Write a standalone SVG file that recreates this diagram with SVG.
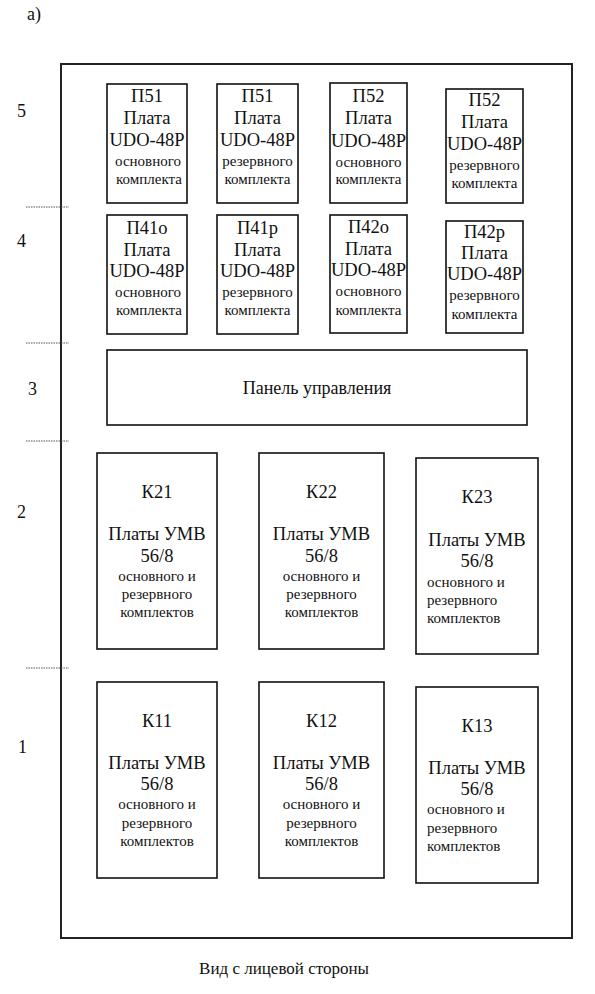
<svg xmlns="http://www.w3.org/2000/svg" width="595" height="994" viewBox="0 0 595 994" font-family="'Liberation Serif', 'Times New Roman', 'DejaVu Serif', serif">
<style>
.bx{fill:#fff;stroke:#111;stroke-width:1.6}
.fr{fill:none;stroke:#222;stroke-width:2}
.dt{stroke:#555;stroke-width:1.2;stroke-dasharray:1.5 1}
text{font-family:'Liberation Serif','Times New Roman','DejaVu Serif',serif;fill:#111}
.b{font-size:18.5px;text-anchor:middle}
.s{font-size:15px;text-anchor:middle}
.sl{font-size:15px}
.lb{font-size:18px}
</style>
<rect width="595" height="994" fill="#fff"/>
<text class="lb" x="27" y="20">а)</text>
<rect class="fr" x="61" y="64" width="511" height="874"/>
<g id="row-labels">
<text class="lb" x="17" y="117">5</text>
<text class="lb" x="17" y="247">4</text>
<text class="lb" x="28" y="395">3</text>
<text class="lb" x="17" y="518">2</text>
<text class="lb" x="18" y="753">1</text>
</g>
<g id="separators">
<line class="dt" x1="26" y1="207" x2="69" y2="207"/>
<line class="dt" x1="26" y1="343" x2="69" y2="343"/>
<line class="dt" x1="26" y1="441" x2="69" y2="441"/>
<line class="dt" x1="26" y1="668" x2="69" y2="668"/>
</g>
<g id="p51o">
<rect class="bx" x="107" y="84" width="80" height="119"/>
<text class="b" x="147" y="102">П51</text>
<text class="b" x="147" y="124">Плата</text>
<text class="b" x="147" y="146">UDO-48P</text>
<text class="s" x="148" y="166">основного</text>
<text class="s" x="149" y="184">комплекта</text>
</g>
<g id="p51r">
<rect class="bx" x="217" y="84" width="81" height="119"/>
<text class="b" x="257.5" y="102">П51</text>
<text class="b" x="257.5" y="124">Плата</text>
<text class="b" x="257.5" y="146">UDO-48P</text>
<text class="s" x="257.5" y="166">резервного</text>
<text class="s" x="257.5" y="184">комплекта</text>
</g>
<g id="p52o">
<rect class="bx" x="330" y="83" width="77" height="120"/>
<text class="b" x="368.5" y="102">П52</text>
<text class="b" x="368.5" y="124">Плата</text>
<text class="b" x="368.5" y="147">UDO-48P</text>
<text class="s" x="368.5" y="167">основного</text>
<text class="s" x="368.5" y="184">комплекта</text>
</g>
<g id="p52r">
<rect class="bx" x="446" y="89" width="77" height="114"/>
<text class="b" x="484.5" y="106">П52</text>
<text class="b" x="484.5" y="128">Плата</text>
<text class="b" x="484.5" y="150">UDO-48P</text>
<text class="s" x="484.5" y="170">резервного</text>
<text class="s" x="484.5" y="188">комплекта</text>
</g>
<g id="p41o">
<rect class="bx" x="107" y="215" width="80" height="119"/>
<text class="b" x="147" y="234">П41о</text>
<text class="b" x="147" y="256">Плата</text>
<text class="b" x="147" y="277">UDO-48P</text>
<text class="s" x="148" y="297">основного</text>
<text class="s" x="149" y="315">комплекта</text>
</g>
<g id="p41r">
<rect class="bx" x="217" y="215" width="81" height="119"/>
<text class="b" x="257.5" y="234">П41р</text>
<text class="b" x="257.5" y="256">Плата</text>
<text class="b" x="257.5" y="277">UDO-48P</text>
<text class="s" x="257.5" y="297">резервного</text>
<text class="s" x="257.5" y="315">комплекта</text>
</g>
<g id="p42o">
<rect class="bx" x="330" y="215" width="77" height="118"/>
<text class="b" x="368.5" y="233">П42о</text>
<text class="b" x="368.5" y="255">Плата</text>
<text class="b" x="368.5" y="276">UDO-48P</text>
<text class="s" x="368.5" y="296">основного</text>
<text class="s" x="368.5" y="315">комплекта</text>
</g>
<g id="p42r">
<rect class="bx" x="446" y="221" width="77" height="112"/>
<text class="b" x="484.5" y="238">П42р</text>
<text class="b" x="484.5" y="259">Плата</text>
<text class="b" x="484.5" y="280">UDO-48P</text>
<text class="s" x="484.5" y="300">резервного</text>
<text class="s" x="484.5" y="319">комплекта</text>
</g>
<g id="panel">
<rect class="bx" x="107" y="350" width="420" height="75"/>
<text class="b" x="317" y="394" style="font-size:18px">Панель управления</text>
</g>
<g id="k21">
<rect class="bx" x="97" y="453" width="120" height="196"/>
<text class="b" x="157" y="498">К21</text>
<text class="b" x="157" y="540">Платы УМВ</text>
<text class="b" x="157" y="562">56/8</text>
<text class="s" x="157" y="581">основного и</text>
<text class="s" x="157" y="599">резервного</text>
<text class="s" x="157" y="617">комплектов</text>
</g>
<g id="k22">
<rect class="bx" x="259" y="453" width="125" height="196"/>
<text class="b" x="321.5" y="498">К22</text>
<text class="b" x="321.5" y="540">Платы УМВ</text>
<text class="b" x="321.5" y="562">56/8</text>
<text class="s" x="321.5" y="581">основного и</text>
<text class="s" x="321.5" y="599">резервного</text>
<text class="s" x="321.5" y="617">комплектов</text>
</g>
<g id="k23">
<rect class="bx" x="416" y="458" width="122" height="196"/>
<text class="b" x="477" y="503">К23</text>
<text class="b" x="477" y="546">Платы УМВ</text>
<text class="b" x="477" y="567">56/8</text>
<text class="sl" x="427" y="587">основного и</text>
<text class="sl" x="427" y="605">резервного</text>
<text class="sl" x="427" y="623">комплектов</text>
</g>
<g id="k11">
<rect class="bx" x="97" y="682" width="120" height="196"/>
<text class="b" x="157" y="727">К11</text>
<text class="b" x="157" y="769">Платы УМВ</text>
<text class="b" x="157" y="790">56/8</text>
<text class="s" x="157" y="809">основного и</text>
<text class="s" x="157" y="828">резервного</text>
<text class="s" x="157" y="846">комплектов</text>
</g>
<g id="k12">
<rect class="bx" x="259" y="682" width="125" height="196"/>
<text class="b" x="321.5" y="727">К12</text>
<text class="b" x="321.5" y="769">Платы УМВ</text>
<text class="b" x="321.5" y="790">56/8</text>
<text class="s" x="321.5" y="809">основного и</text>
<text class="s" x="321.5" y="828">резервного</text>
<text class="s" x="321.5" y="846">комплектов</text>
</g>
<g id="k13">
<rect class="bx" x="416" y="687" width="122" height="196"/>
<text class="b" x="477" y="732">К13</text>
<text class="b" x="477" y="774">Платы УМВ</text>
<text class="b" x="477" y="795">56/8</text>
<text class="sl" x="427" y="814">основного и</text>
<text class="sl" x="427" y="833">резервного</text>
<text class="sl" x="427" y="851">комплектов</text>
</g>
<g id="connectors"></g>
<text class="b" x="284" y="974" style="font-size:17px">Вид с лицевой стороны</text>
</svg>
